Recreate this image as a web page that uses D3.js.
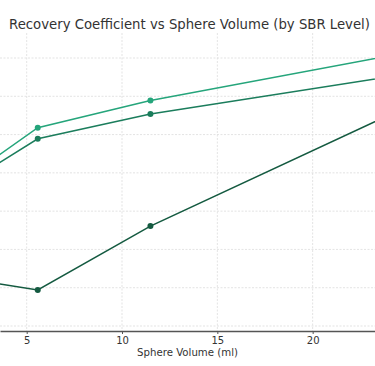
<!DOCTYPE html>
<html>
<head>
<meta charset="utf-8">
<script src="https://cdn.jsdelivr.net/npm/d3@7"></script>
<style>
  body { margin: 0; background: #fff; }
  svg { display: block; font-family: "DejaVu Sans", sans-serif; }
</style>
</head>
<body>
<div class="chart"></div>
<script>
// sphere volumes (ml) of the phantom spheres
let volumes = [2.57, 5.58, 11.49, 26.52];
// recovery coefficient per SBR level
let sbrHigh = [0.612, 0.718, 0.789, 0.929];
let sbrMid = [0.595, 0.689, 0.754, 0.870];
let sbrLow = [0.318, 0.294, 0.461, 0.809];
let xTicks = [5, 10, 15, 20];
let yGrid = [0.2, 0.3, 0.4, 0.5, 0.6, 0.7, 0.8, 0.9];

let series = [
  {name: "low", values: sbrLow, color: "#145a40"},
  {name: "mid", values: sbrMid, color: "#1b7d5c"},
  {name: "high", values: sbrHigh, color: "#25a57b"}
];

let width = 375, height = 366;
let plotTop = 33, plotBottom = 331;

const svg = d3.select(".chart")
  .append("svg")
  .attr("width", width)
  .attr("height", height);

// the view is zoomed: x domain cut at both sides
let x = d3.scaleLinear()
  .domain([3.6, 23.27])
  .range([0, width]);

let y = d3.scaleLinear()
  .domain([0.2, 0.9])
  .range([326, 58]);

svg.append("defs").append("clipPath").attr("id", "clip")
  .append("rect")
  .attr("x", 0).attr("y", plotTop)
  .attr("width", width).attr("height", plotBottom - plotTop);

// grid
let grid = svg.append("g");
grid.selectAll(".vg")
  .data(xTicks)
  .enter().append("line")
  .attr("x1", d => x(d)).attr("x2", d => x(d))
  .attr("y1", plotTop).attr("y2", plotBottom)
  .attr("stroke", "#dcdcdc").attr("stroke-width", 0.8)
  .attr("stroke-dasharray", "2,1.5");
grid.selectAll(".hg")
  .data(yGrid)
  .enter().append("line")
  .attr("x1", 0).attr("x2", width)
  .attr("y1", d => y(d)).attr("y2", d => y(d))
  .attr("stroke", "#dcdcdc").attr("stroke-width", 0.8)
  .attr("stroke-dasharray", "2,1.5");

let line = d3.line()
  .x((d, i) => x(volumes[i]))
  .y(d => y(d));

let plot = svg.append("g").attr("clip-path", "url(#clip)");

series.forEach(function (s) {
  plot.append("path")
    .datum(s.values)
    .attr("fill", "none")
    .attr("stroke", s.color)
    .attr("stroke-width", 1.5)
    .attr("d", line);
  plot.selectAll(".pt-" + s.name)
    .data(s.values)
    .enter().append("circle")
    .attr("cx", (d, i) => x(volumes[i]))
    .attr("cy", d => y(d))
    .attr("r", 3)
    .attr("fill", s.color);
});

// x axis
let xAxis = svg.append("g")
  .attr("transform", "translate(0," + plotBottom + ")")
  .call(d3.axisBottom(x).tickValues(xTicks).tickSize(3).tickSizeOuter(0).tickPadding(3).tickFormat(d3.format("d")));
xAxis.attr("font-family", null).attr("font-size", null);
xAxis.select(".domain").attr("stroke", "#555").attr("stroke-width", 1.5);
xAxis.selectAll(".tick line").attr("stroke", "#555");
xAxis.selectAll(".tick text").attr("fill", "#333").style("font-size", "10px");

svg.append("text")
  .attr("x", width / 2)
  .attr("y", 356)
  .attr("text-anchor", "middle")
  .attr("fill", "#333")
  .style("font-size", "10.2px")
  .text("Sphere Volume (ml)");

let title = svg.append("text")
  .attr("x", 189.5)
  .attr("y", 29)
  .attr("text-anchor", "middle")
  .attr("fill", "#333")
  .style("font-size", "14px")
  .text("Recovery Coefficient vs Sphere Volume (by SBR Level)");
// fit title to the width seen in the reference
let tw = title.node().getComputedTextLength();
title.style("font-size", (14 * 361 / tw).toFixed(2) + "px");
</script>
</body>
</html>
